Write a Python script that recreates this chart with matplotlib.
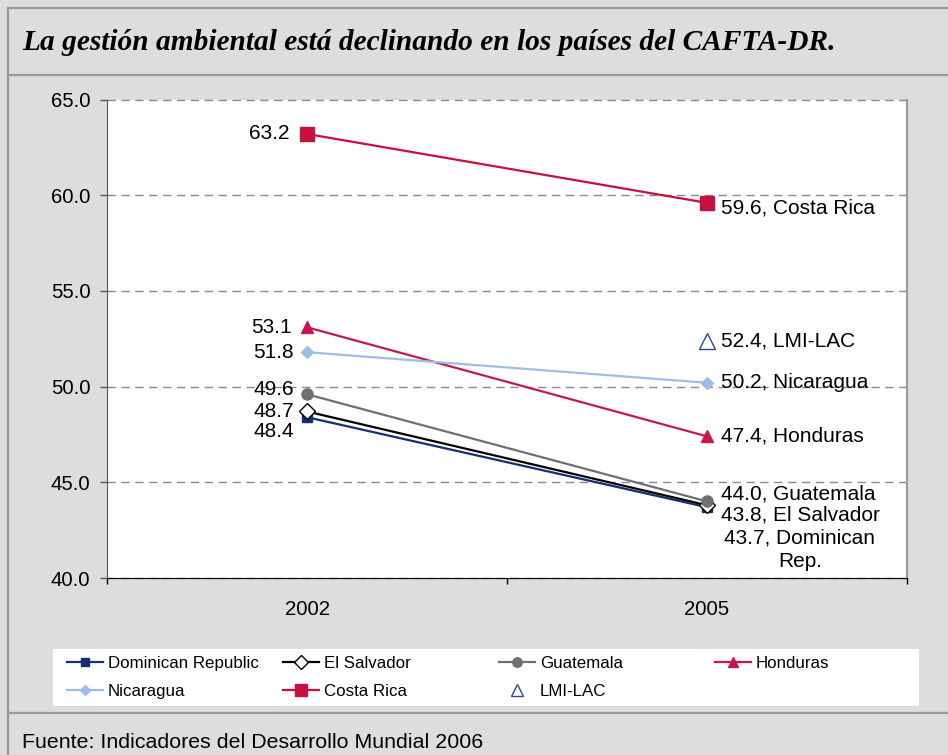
import matplotlib
matplotlib.use("Agg")
import matplotlib.pyplot as plt
from matplotlib.lines import Line2D
from matplotlib.patches import Rectangle

plt.rcParams['font.family'] = ['Liberation Sans', 'DejaVu Sans']

# ---- data ----
years = ["2002", "2005"]
dominican = [48.4, 43.7]
el_salvador = [48.7, 43.8]
guatemala = [49.6, 44.0]
honduras = [53.1, 47.4]
nicaragua = [51.8, 50.2]
costa_rica = [63.2, 59.6]
lmi_lac_2005 = 52.4
yticks = [40.0, 45.0, 50.0, 55.0, 60.0, 65.0]

title = "La gestión ambiental está declinando en los países del CAFTA-DR."
source = "Fuente: Indicadores del Desarrollo Mundial 2006"

W, H = 948, 755
fig = plt.figure(figsize=(W / 100, H / 100), dpi=100, facecolor='#dddddd')

def fx(px):
    return px / W

def fy(py):
    return 1 - py / H

# frame lines
border = '#9a9a9a'
for (x0, y0, x1, y1) in [(8, 8, 948, 8), (8, 8, 8, 755), (8, 75, 948, 75), (8, 713, 948, 713)]:
    fig.add_artist(Line2D([fx(x0), fx(x1)], [fy(y0), fy(y1)], transform=fig.transFigure,
                          color=border, lw=1.6))

fig.text(fx(22), fy(43), title, family='Liberation Serif', style='italic', weight='bold',
         fontsize=21.2, ha='left', va='center')
fig.text(fx(22), fy(743), source, fontsize=15.4, ha='left', va='center')

# plot area
ax = fig.add_axes([fx(107), fy(578), (907 - 107) / W, (578 - 99.5) / H])
ax.set_facecolor('white')
x = [0, 1]
ax.set_xlim(-0.5, 1.5)
ax.set_ylim(40, 65)

ax.set_yticks(yticks)
ax.set_yticklabels([f"{v:.1f}" for v in yticks])
ax.tick_params(axis='y', direction='out', length=5, width=1, color='#555555', pad=7, labelsize=14.7)
ax.set_xticks([-0.5, 0.5, 1.5])
ax.set_xticklabels([])
ax.set_xticks(x, minor=True)
ax.set_xticklabels(years, minor=True)
ax.tick_params(axis='x', which='major', direction='out', length=4.5, width=1, color='black')
ax.tick_params(axis='x', which='minor', length=0, pad=16, labelsize=14.7)

ax.spines['top'].set_visible(False)
ax.spines['left'].set_color('#555555')
ax.spines['bottom'].set_color('black')
ax.spines['right'].set_color('#999999')
ax.spines['right'].set_linewidth(1.5)

ax.yaxis.grid(True, linestyle=(0, (6, 4)), color='#8a8a8a', lw=1)
for gl in ax.get_ygridlines():
    gl.set_clip_on(False)
ax.set_axisbelow(True)

c_dr = '#14306e'
c_es = '#000000'
c_gt = '#6f6f6f'
c_hn = '#c8174a'
c_ni = '#9dbde6'
c_cr = '#c8103e'
c_lmi = '#2b4a8c'

lw = 1.6
h_dr, = ax.plot(x, dominican, color=c_dr, lw=lw, marker='s', ms=7, mfc=c_dr, mec=c_dr, label='Dominican Republic', zorder=3)
h_es, = ax.plot(x, el_salvador, color=c_es, lw=lw, marker='D', ms=8, mfc='white', mec=c_es, mew=1, label='El Salvador', zorder=3)
h_gt, = ax.plot(x, guatemala, color=c_gt, lw=lw, marker='o', ms=8, mfc=c_gt, mec=c_gt, label='Guatemala', zorder=3)
h_hn, = ax.plot(x, honduras, color=c_hn, lw=lw, marker='^', ms=8.5, mfc=c_hn, mec=c_hn, label='Honduras', zorder=3)
h_ni, = ax.plot(x, nicaragua, color=c_ni, lw=lw, marker='D', ms=6.5, mfc=c_ni, mec=c_ni, label='Nicaragua', zorder=3)
h_cr, = ax.plot(x, costa_rica, color=c_cr, lw=lw, marker='s', ms=10.5, mfc=c_cr, mec=c_cr, label='Costa Rica', zorder=3)
h_lmi, = ax.plot([1], [lmi_lac_2005], ls='none', marker='^', ms=11, mfc='white', mec=c_lmi, mew=1, label='LMI-LAC', zorder=3)

fs = 15
# left (2002) labels: (value, dx, dy) offsets in pixels
left_labels = [(costa_rica[0], -18, 0), (honduras[0], -15, 0), (nicaragua[0], -13, 0),
               (guatemala[0], -13, 5), (el_salvador[0], -13, 0), (dominican[0], -13, -14)]
for v, dx, dy in left_labels:
    ax.annotate(f"{v:.1f}", (0, v), xytext=(dx, dy), textcoords='offset pixels',
                ha='right', va='center', fontsize=fs, annotation_clip=False)

right_labels = [(costa_rica[1], 'Costa Rica', -5), (lmi_lac_2005, 'LMI-LAC', 0),
                (nicaragua[1], 'Nicaragua', 0), (honduras[1], 'Honduras', 0),
                (guatemala[1], 'Guatemala', 7), (el_salvador[1], 'El Salvador', -10)]
for v, name, dy in right_labels:
    ax.annotate(f"{v:.1f}, {name}", (1, v), xytext=(14, dy), textcoords='offset pixels',
                ha='left', va='center', fontsize=fs, annotation_clip=False)
ax.annotate(f"{dominican[1]:.1f}, Dominican\nRep.", (1, dominican[1]), xytext=(93, -43),
            textcoords='offset pixels', ha='center', va='center', multialignment='center',
            linespacing=1.3, fontsize=fs, annotation_clip=False)

# legend box
fig.add_artist(Rectangle((fx(53), fy(706)), (919 - 53) / W, (706 - 649) / H,
                         transform=fig.transFigure, facecolor='white', edgecolor='none', zorder=0))
columns = [([h_dr, h_ni], 67), ([h_es, h_cr], 283), ([h_gt, h_lmi], 499), ([h_hn], 715)]
for handles, px in columns:
    leg = fig.legend(handles=handles, loc='upper left', bbox_to_anchor=(fx(px), fy(656)),
                     bbox_transform=fig.transFigure, frameon=False, fontsize=12.2,
                     handlelength=2.1, handletextpad=0.3, labelspacing=0.75,
                     borderpad=0, borderaxespad=0, markerscale=0.85)

fig.savefig('out.png', dpi=100, facecolor=fig.get_facecolor())
